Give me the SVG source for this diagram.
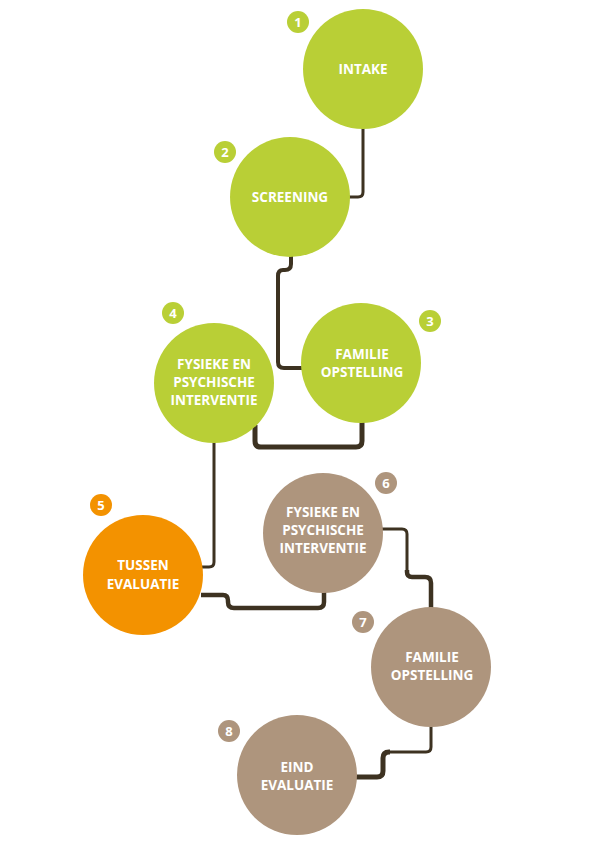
<svg xmlns="http://www.w3.org/2000/svg" width="596" height="842" viewBox="0 0 596 842">
<style>
.g{fill:#b9cf36}.t{fill:#ae957d}.o{fill:#f39200}
.lbl{font-family:"Open Sans","Liberation Sans",sans-serif;font-weight:bold;font-size:13.5px;fill:#fff;text-anchor:middle}
.num{font-family:"Open Sans","Liberation Sans",sans-serif;font-weight:bold;font-size:13px;fill:#fff;text-anchor:middle}
.c{fill:none;stroke:#3d3221;stroke-linejoin:round;stroke-linecap:butt}
</style>
<rect width="596" height="842" fill="#fff"/>
<g id="connectors">
<path class="c" stroke-width="3" d="M363,128 V192 Q363,197 358,197 H349"/>
<path class="c" stroke-width="4" d="M291,256 V264 Q291,270 285,270 H283 Q278,270 278,276 V362 Q278,368 284,368 H302"/>
<path class="c" stroke-width="5" d="M255,425 V441 Q255,447 261,447 H356 Q362,447 362,441 V421"/>
<path class="c" stroke-width="3" d="M214,442 V562 Q214,567 209,567 H202"/>
<path class="c" stroke-width="4.5" d="M201,595 H223 Q228,595 228,601 V602 Q228,608 234,608 H318 Q324,608 324,602 V591"/>
<path class="c" stroke-width="3" d="M382,529 H402 Q407,529 407,534 V572"/>
<path class="c" stroke-width="4.5" d="M407,570 V572 Q407,577 412,577 H425 Q431,577 431,583 V609"/>
<path class="c" stroke-width="3" d="M431,725 V747 Q431,752 426,752 H388"/>
<path class="c" stroke-width="5" d="M390,752 H389 Q383,752 383,758 V771 Q383,777 377,777 H355"/>
</g>
<g id="n1"><circle class="g" cx="363" cy="69" r="60"/><text class="lbl" x="363" y="74">INTAKE</text><circle class="g" cx="298" cy="22" r="11"/><text class="num" x="298" y="27">1</text></g>
<g id="n2"><circle class="g" cx="290" cy="197" r="60"/><text class="lbl" x="290" y="202">SCREENING</text><circle class="g" cx="225" cy="152" r="11"/><text class="num" x="225" y="157">2</text></g>
<g id="n3"><circle class="g" cx="361" cy="363" r="60"/><text class="lbl" x="362" y="359">FAMILIE</text><text class="lbl" x="362" y="377">OPSTELLING</text><circle class="g" cx="430" cy="321" r="11"/><text class="num" x="430" y="326">3</text></g>
<g id="n4"><circle class="g" cx="214" cy="383" r="60"/><text class="lbl" x="214" y="369">FYSIEKE EN</text><text class="lbl" x="214" y="387">PSYCHISCHE</text><text class="lbl" x="214" y="405">INTERVENTIE</text><circle class="g" cx="173" cy="313" r="11"/><text class="num" x="173" y="318">4</text></g>
<g id="n5"><circle class="o" cx="143" cy="575" r="60"/><text class="lbl" x="143" y="570">TUSSEN</text><text class="lbl" x="143" y="589">EVALUATIE</text><circle class="o" cx="101" cy="505" r="11"/><text class="num" x="101" y="510">5</text></g>
<g id="n6"><circle class="t" cx="323" cy="533" r="60"/><text class="lbl" x="323" y="517">FYSIEKE EN</text><text class="lbl" x="323" y="535">PSYCHISCHE</text><text class="lbl" x="323" y="553">INTERVENTIE</text><circle class="t" cx="386" cy="483" r="11"/><text class="num" x="386" y="488">6</text></g>
<g id="n7"><circle class="t" cx="431" cy="667" r="60"/><text class="lbl" x="432" y="662">FAMILIE</text><text class="lbl" x="432" y="680">OPSTELLING</text><circle class="t" cx="363" cy="622" r="11"/><text class="num" x="363" y="627">7</text></g>
<g id="n8"><circle class="t" cx="297" cy="775" r="60"/><text class="lbl" x="297" y="772">EIND</text><text class="lbl" x="297" y="790">EVALUATIE</text><circle class="t" cx="229" cy="731" r="11"/><text class="num" x="229" y="736">8</text></g>
</svg>
